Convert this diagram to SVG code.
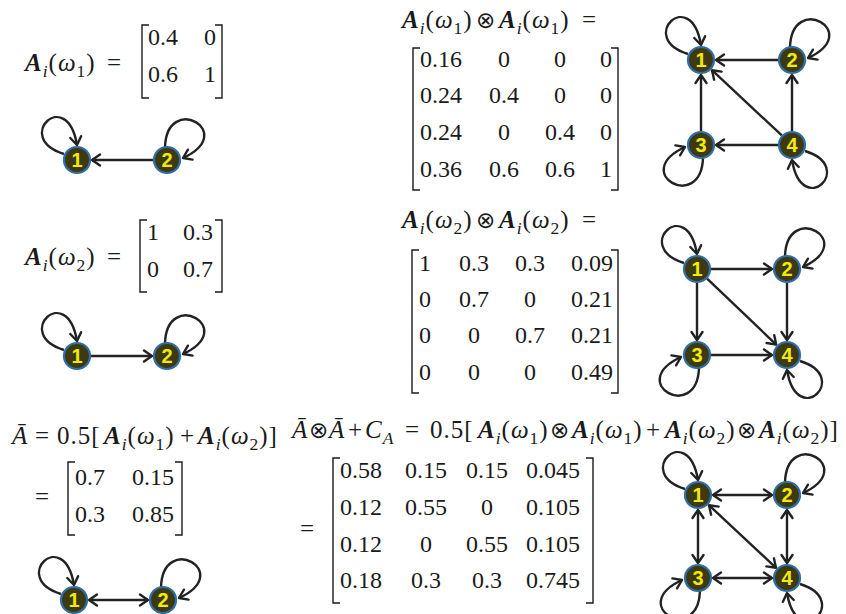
<svg xmlns="http://www.w3.org/2000/svg" width="846" height="614" viewBox="0 0 846 614">
<style>
.m{font-family:"Liberation Serif","DejaVu Serif",serif;font-size:24px;fill:#1a1a1a}
.h{font-size:25px;letter-spacing:1px}
.c{text-anchor:middle}
.bi{font-weight:bold;font-style:italic}
.it{font-style:italic}
.s{font-size:17.5px}
.o{font-size:23px;font-family:"DejaVu Sans","DejaVu Serif",sans-serif;font-weight:normal}
.br{fill:none;stroke:#1a1a1a;stroke-width:1.4}
.node circle{fill:#3d3a12;stroke:#2f6ea8;stroke-width:2.2}
.node text{font-family:"Liberation Sans",Arial,sans-serif;font-weight:bold;font-size:20px;fill:#f2ea0c;text-anchor:middle}
.e{fill:none;stroke:#222;stroke-width:2.4}
</style>
<defs>
<marker id="ah" markerUnits="userSpaceOnUse" markerWidth="16" markerHeight="16" viewBox="0 0 16 16" refX="11" refY="8" orient="auto-start-reverse">
<path d="M3,2.5 L11,8 L3,13.5" fill="none" stroke="#222" stroke-width="2.4" stroke-linecap="round" stroke-linejoin="round"/>
</marker>
</defs>

<!-- Equations and matrices -->
<g id="eq-a1">
<text class="m h" x="25" y="71"><tspan class="bi">A</tspan><tspan class="s it" dy="6">i</tspan><tspan dy="-6">(</tspan><tspan class="it">ω</tspan><tspan class="s" dy="6">1</tspan><tspan dy="-6">)</tspan><tspan x="107">=</tspan></text>
<path class="br" d="M149,25 H142 V98 H149"/>
<path class="br" d="M215,25 H222 V98 H215"/>
<text class="m c" y="45"><tspan x="163">0.4</tspan><tspan x="210">0</tspan></text>
<text class="m c" y="82"><tspan x="163">0.6</tspan><tspan x="210">1</tspan></text>
</g>

<g id="eq-a2">
<text class="m h" x="25" y="265"><tspan class="bi">A</tspan><tspan class="s it" dy="6">i</tspan><tspan dy="-6">(</tspan><tspan class="it">ω</tspan><tspan class="s" dy="6">2</tspan><tspan dy="-6">)</tspan><tspan x="107">=</tspan></text>
<path class="br" d="M147,220 H140 V292 H147"/>
<path class="br" d="M215,220 H222 V292 H215"/>
<text class="m c" y="240"><tspan x="153">1</tspan><tspan x="198">0.3</tspan></text>
<text class="m c" y="277"><tspan x="153">0</tspan><tspan x="198">0.7</tspan></text>
</g>

<g id="eq-abar">
<text class="m h" y="444"><tspan x="12" class="it">Ā</tspan><tspan x="35">=</tspan><tspan x="57">0.5[</tspan><tspan x="104" class="bi">A</tspan><tspan class="s it" dy="6">i</tspan><tspan dy="-6">(</tspan><tspan class="it">ω</tspan><tspan class="s" dy="6">1</tspan><tspan dy="-6">)</tspan><tspan x="180">+</tspan><tspan x="198" class="bi">A</tspan><tspan class="s it" dy="6">i</tspan><tspan dy="-6">(</tspan><tspan class="it">ω</tspan><tspan class="s" dy="6">2</tspan><tspan dy="-6">)]</tspan></text>
<text class="m h" x="35" y="505">=</text>
<path class="br" d="M75,462 H68 V535 H75"/>
<path class="br" d="M175,462 H182 V535 H175"/>
<text class="m c" y="485"><tspan x="90">0.7</tspan><tspan x="153">0.15</tspan></text>
<text class="m c" y="522"><tspan x="90">0.3</tspan><tspan x="153">0.85</tspan></text>
</g>

<g id="eq-k1">
<text class="m h" y="28"><tspan x="402" class="bi">A</tspan><tspan class="s it" dy="6">i</tspan><tspan dy="-6">(</tspan><tspan class="it">ω</tspan><tspan class="s" dy="6">1</tspan><tspan dy="-6">)</tspan><tspan x="476" class="o">⊗</tspan><tspan x="499" class="bi">A</tspan><tspan class="s it" dy="6">i</tspan><tspan dy="-6">(</tspan><tspan class="it">ω</tspan><tspan class="s" dy="6">1</tspan><tspan dy="-6">)</tspan><tspan x="582">=</tspan></text>
<path class="br" d="M420,48 H413 V190 H420"/>
<path class="br" d="M611,48 H618 V190 H611"/>
<text class="m c" y="67"><tspan x="441">0.16</tspan><tspan x="504">0</tspan><tspan x="560">0</tspan><tspan x="606">0</tspan></text>
<text class="m c" y="103"><tspan x="441">0.24</tspan><tspan x="504">0.4</tspan><tspan x="560">0</tspan><tspan x="606">0</tspan></text>
<text class="m c" y="140"><tspan x="441">0.24</tspan><tspan x="504">0</tspan><tspan x="560">0.4</tspan><tspan x="606">0</tspan></text>
<text class="m c" y="177"><tspan x="441">0.36</tspan><tspan x="504">0.6</tspan><tspan x="560">0.6</tspan><tspan x="606">1</tspan></text>
</g>

<g id="eq-k2">
<text class="m h" y="228"><tspan x="402" class="bi">A</tspan><tspan class="s it" dy="6">i</tspan><tspan dy="-6">(</tspan><tspan class="it">ω</tspan><tspan class="s" dy="6">2</tspan><tspan dy="-6">)</tspan><tspan x="476" class="o">⊗</tspan><tspan x="499" class="bi">A</tspan><tspan class="s it" dy="6">i</tspan><tspan dy="-6">(</tspan><tspan class="it">ω</tspan><tspan class="s" dy="6">2</tspan><tspan dy="-6">)</tspan><tspan x="582">=</tspan></text>
<path class="br" d="M419,250 H412 V393 H419"/>
<path class="br" d="M611,250 H618 V393 H611"/>
<text class="m c" y="271"><tspan x="425">1</tspan><tspan x="474">0.3</tspan><tspan x="530">0.3</tspan><tspan x="592">0.09</tspan></text>
<text class="m c" y="307"><tspan x="425">0</tspan><tspan x="474">0.7</tspan><tspan x="530">0</tspan><tspan x="592">0.21</tspan></text>
<text class="m c" y="343"><tspan x="425">0</tspan><tspan x="474">0</tspan><tspan x="530">0.7</tspan><tspan x="592">0.21</tspan></text>
<text class="m c" y="380"><tspan x="425">0</tspan><tspan x="474">0</tspan><tspan x="530">0</tspan><tspan x="592">0.49</tspan></text>
</g>

<g id="eq-sum">
<text class="m h" y="438"><tspan x="292" class="it">Ā</tspan><tspan x="309" class="o">⊗</tspan><tspan x="329" class="it">Ā</tspan><tspan x="348">+</tspan><tspan x="365" class="it">C</tspan><tspan class="s it" dy="6">A</tspan><tspan x="405" dy="-6">=</tspan><tspan x="430">0.5[</tspan><tspan x="478" class="bi">A</tspan><tspan class="s it" dy="6">i</tspan><tspan dy="-6">(</tspan><tspan class="it">ω</tspan><tspan class="s" dy="6">1</tspan><tspan dy="-6">)</tspan><tspan x="550" class="o">⊗</tspan><tspan x="572" class="bi">A</tspan><tspan class="s it" dy="6">i</tspan><tspan dy="-6">(</tspan><tspan class="it">ω</tspan><tspan class="s" dy="6">1</tspan><tspan dy="-6">)</tspan><tspan x="646">+</tspan><tspan x="665" class="bi">A</tspan><tspan class="s it" dy="6">i</tspan><tspan dy="-6">(</tspan><tspan class="it">ω</tspan><tspan class="s" dy="6">2</tspan><tspan dy="-6">)</tspan><tspan x="737" class="o">⊗</tspan><tspan x="759" class="bi">A</tspan><tspan class="s it" dy="6">i</tspan><tspan dy="-6">(</tspan><tspan class="it">ω</tspan><tspan class="s" dy="6">2</tspan><tspan dy="-6">)]</tspan></text>
<text class="m h" x="300" y="537">=</text>
<path class="br" d="M340,458 H333 V603 H340"/>
<path class="br" d="M586,458 H593 V603 H586"/>
<text class="m c" y="478"><tspan x="361">0.58</tspan><tspan x="426">0.15</tspan><tspan x="487">0.15</tspan><tspan x="553">0.045</tspan></text>
<text class="m c" y="515"><tspan x="361">0.12</tspan><tspan x="426">0.55</tspan><tspan x="487">0</tspan><tspan x="553">0.105</tspan></text>
<text class="m c" y="552"><tspan x="361">0.12</tspan><tspan x="426">0</tspan><tspan x="487">0.55</tspan><tspan x="553">0.105</tspan></text>
<text class="m c" y="588"><tspan x="361">0.18</tspan><tspan x="426">0.3</tspan><tspan x="487">0.3</tspan><tspan x="553">0.745</tspan></text>
</g>

<!-- Connectors -->
<g id="connectors" marker-end="url(#ah)">
<!-- graph A1 -->
<path class="e" d="M153,160 L92,160"/>
<path class="e" transform="translate(77,160)" d="M-13,-6 C-65,-22 -10,-75 0,-15"/>
<path class="e" transform="translate(167,160)" d="M-2,-13 C0,-68 72,-28 16,-2"/>
<!-- graph A2 -->
<path class="e" d="M91,356 L152,356"/>
<path class="e" transform="translate(77,356)" d="M-13,-6 C-65,-22 -10,-75 0,-15"/>
<path class="e" transform="translate(167,356)" d="M-2,-13 C0,-68 72,-28 16,-2"/>
<!-- graph Abar -->
<path class="e" d="M89,600 L148,600" marker-start="url(#ah)"/>
<path class="e" transform="translate(74,600)" d="M-13,-6 C-65,-22 -10,-75 0,-15"/>
<path class="e" transform="translate(163,600)" d="M-2,-13 C0,-68 72,-28 16,-2"/>
<!-- graph K1 -->
<path class="e" d="M778,60 L716,60"/>
<path class="e" d="M701,131 L701,75"/>
<path class="e" d="M781.8,135.4 L712,70.2"/>
<path class="e" d="M792,131 L792,75"/>
<path class="e" d="M778,145 L716,145"/>
<path class="e" transform="translate(701,60)" d="M-13,-6 C-65,-22 -10,-75 0,-15"/>
<path class="e" transform="translate(792,60)" d="M-2,-13 C0,-68 72,-28 16,-2"/>
<path class="e" transform="translate(701,145)" d="M2,13 C0,68 -72,28 -16,2"/>
<path class="e" transform="translate(792,145)" d="M13,6 C65,22 10,75 0,15"/>
<!-- graph K2 -->
<path class="e" d="M711,269 L772,269"/>
<path class="e" d="M697,283 L697,340"/>
<path class="e" d="M707.1,278.7 L776.2,344.6"/>
<path class="e" d="M787,283 L787,340"/>
<path class="e" d="M711,355 L772,355"/>
<path class="e" transform="translate(697,269)" d="M-13,-6 C-65,-22 -10,-75 0,-15"/>
<path class="e" transform="translate(787,269)" d="M-2,-13 C0,-68 72,-28 16,-2"/>
<path class="e" transform="translate(697,355)" d="M2,13 C0,68 -72,28 -16,2"/>
<path class="e" transform="translate(787,355)" d="M13,6 C65,22 10,75 0,15"/>
<!-- graph Sum -->
<path class="e" d="M713,495 L772,495" marker-start="url(#ah)"/>
<path class="e" d="M698,510 L698,563" marker-start="url(#ah)"/>
<path class="e" d="M709,505.2 L776,567.8" marker-start="url(#ah)"/>
<path class="e" d="M787,510 L787,563" marker-start="url(#ah)"/>
<path class="e" d="M713,578 L772,578" marker-start="url(#ah)"/>
<path class="e" transform="translate(698,495)" d="M-13,-6 C-65,-22 -10,-75 0,-15"/>
<path class="e" transform="translate(787,495)" d="M-2,-13 C0,-68 72,-28 16,-2"/>
<path class="e" transform="translate(698,578)" d="M2,13 C0,68 -72,28 -16,2"/>
<path class="e" transform="translate(787,578)" d="M13,6 C65,22 10,75 0,15"/>
</g>

<!-- Nodes -->
<g id="a1-n1" class="node"><circle cx="77" cy="160" r="13"/><text x="77" y="167">1</text></g>
<g id="a1-n2" class="node"><circle cx="167" cy="160" r="13"/><text x="167" y="167">2</text></g>
<g id="a2-n1" class="node"><circle cx="77" cy="356" r="13"/><text x="77" y="363">1</text></g>
<g id="a2-n2" class="node"><circle cx="167" cy="356" r="13"/><text x="167" y="363">2</text></g>
<g id="ab-n1" class="node"><circle cx="74" cy="600" r="13"/><text x="74" y="607">1</text></g>
<g id="ab-n2" class="node"><circle cx="163" cy="600" r="13"/><text x="163" y="607">2</text></g>

<g id="k1-n1" class="node"><circle cx="701" cy="60" r="13"/><text x="701" y="67">1</text></g>
<g id="k1-n2" class="node"><circle cx="792" cy="60" r="13"/><text x="792" y="67">2</text></g>
<g id="k1-n3" class="node"><circle cx="701" cy="145" r="13"/><text x="701" y="152">3</text></g>
<g id="k1-n4" class="node"><circle cx="792" cy="145" r="13"/><text x="792" y="152">4</text></g>

<g id="k2-n1" class="node"><circle cx="697" cy="269" r="13"/><text x="697" y="276">1</text></g>
<g id="k2-n2" class="node"><circle cx="787" cy="269" r="13"/><text x="787" y="276">2</text></g>
<g id="k2-n3" class="node"><circle cx="697" cy="355" r="13"/><text x="697" y="362">3</text></g>
<g id="k2-n4" class="node"><circle cx="787" cy="355" r="13"/><text x="787" y="362">4</text></g>

<g id="s-n1" class="node"><circle cx="698" cy="495" r="13"/><text x="698" y="502">1</text></g>
<g id="s-n2" class="node"><circle cx="787" cy="495" r="13"/><text x="787" y="502">2</text></g>
<g id="s-n3" class="node"><circle cx="698" cy="578" r="13"/><text x="698" y="585">3</text></g>
<g id="s-n4" class="node"><circle cx="787" cy="578" r="13"/><text x="787" y="585">4</text></g>
</svg>
